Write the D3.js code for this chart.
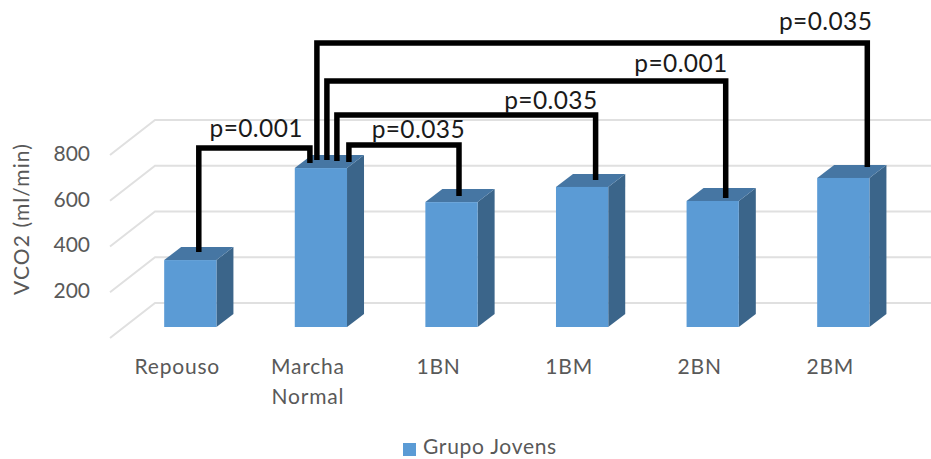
<!DOCTYPE html>
<html>
<head>
<meta charset="utf-8">
<script src="https://cdn.jsdelivr.net/npm/d3@7"></script>
<style>
  html, body { margin: 0; padding: 0; background: #fff; }
  svg { display: block; }
  text { font-family: Lato, "Open Sans", sans-serif; }
</style>
</head>
<body>
<svg id="chart" width="931" height="459"></svg>
<script>
// VCO2 per test condition, young group
const categories = ["Repouso", "Marcha Normal", "1BN", "1BM", "2BN", "2BM"];
const vco2 = [291, 691, 543, 609, 548, 648];
const yTicks = [200, 400, 600, 800];
const gridValues = [0, 200, 400, 600, 800];
const seriesName = "Grupo Jovens";
const yTitle = "VCO2 (ml/min)";

// Significance brackets: pair of categories, p label, bracket height in axis units
const bracketFrom = ["Marcha Normal", "Marcha Normal", "Marcha Normal", "Marcha Normal", "Repouso"];
const bracketTo = ["2BM", "2BN", "1BM", "1BN", "Marcha Normal"];
const bracketP = ["p=0.035", "p=0.001", "p=0.035", "p=0.035", "p=0.001"];
const bracketLevel = [1235, 1070, 922, 791, 778];

const svg = d3.select("#chart");

// Plot geometry
const depth = { x: 17, y: -13 };
const floor = { x: 45, y: 35 };
const baseY = 327;

const x = d3.scaleBand().domain(categories).range([125, 908.6]).paddingInner(0.6).paddingOuter(0.3);
const barY = d3.scaleLinear().domain([0, 800]).range([baseY, baseY - 184]);
const gridY = d3.scaleLinear().domain([0, 800]).range([303, 120]);
const center = c => x(c) + x.bandwidth() / 2;

// Back wall grid and the slanted floor-side strokes
const grid = svg.append("g").attr("fill", "none").attr("stroke", "#e0e0e0").attr("stroke-width", 2);
grid.selectAll("path").data(gridValues).join("path")
  .attr("d", v => d3.line()([[155 - floor.x, gridY(v) + floor.y], [155, gridY(v)], [931, gridY(v)]]));

// Three visible faces of each column
const bars = svg.append("g").selectAll("g").data(categories).join("g");
const corners = (c, i) => ({ l: x(c), r: x(c) + x.bandwidth(), t: barY(vco2[i]), b: baseY });
bars.append("path").attr("fill", "#3b658a").attr("d", (c, i) => {
  const k = corners(c, i);
  return d3.line()([[k.r, k.t], [k.r + depth.x, k.t + depth.y], [k.r + depth.x, k.b + depth.y], [k.r, k.b]]) + "Z";
});
bars.append("path").attr("fill", "#4676a3").attr("d", (c, i) => {
  const k = corners(c, i);
  return d3.line()([[k.l, k.t], [k.l + depth.x, k.t + depth.y], [k.r + depth.x, k.t + depth.y], [k.r, k.t]]) + "Z";
});
bars.append("rect").attr("fill", "#5b9bd5")
  .attr("x", c => x(c)).attr("width", x.bandwidth())
  .attr("y", (c, i) => barY(vco2[i])).attr("height", (c, i) => baseY - barY(vco2[i]));

// Value axis labels sit at the front end of each slanted stroke
const yAxis = d3.axisLeft(d3.scaleLinear().domain([0, 800]).range([336, 153]))
  .tickValues(yTicks).tickSize(0).tickPadding(0);
const yG = svg.append("g").attr("transform", "translate(90,0)").call(yAxis);
yG.select(".domain").remove();
yG.selectAll("text").attr("font-size", 21).attr("fill", "#595959").attr("dy", "0.35em");

// Category axis, long names wrap on two lines
const xAxis = d3.axisBottom(x).tickSize(0).tickPadding(0);
const xG = svg.append("g").attr("transform", "translate(-13,0)").call(xAxis);
xG.select(".domain").remove();
xG.selectAll("text").attr("font-size", 21).attr("fill", "#595959").attr("dy", 0).attr("y", 0)
  .attr("letter-spacing", 0.8)
  .each(function (d) {
    const t = d3.select(this).text(null);
    d.split(" ").forEach((w, i) => t.append("tspan").attr("x", 0).attr("y", 374 + i * 30).text(w));
  });

svg.append("text").attr("transform", "translate(29,219) rotate(-90)")
  .attr("text-anchor", "middle").attr("font-size", 21).attr("fill", "#595959")
  .attr("letter-spacing", 1.1).text(yTitle);

// Legend
svg.append("rect").attr("x", 403).attr("y", 443).attr("width", 13).attr("height", 13).attr("fill", "#5b9bd5");
svg.append("text").attr("x", 423).attr("y", 454).attr("font-size", 21).attr("fill", "#595959")
  .attr("letter-spacing", 0.7).text(seriesName);

// Brackets: horizontal offsets keep the five feet on the central column apart
const footFrom = [-4, 6, 16, 28, 8.5];
const footTo = [24, 13, 13.5, 7.5, -11];
const insetFrom = [8, 8, 7, 6, 8];
const insetTo = [11, 3, 7, 6, 5];
const labelDx = [5, 2, 2, 6, -7];
const labelDy = [13, 9, 6, 7, 11];

const valueOf = c => vco2[categories.indexOf(c)];
const br = svg.append("g");
br.selectAll("path").data(bracketP).join("path")
  .attr("fill", "none").attr("stroke", "#000").attr("stroke-width", 5.5).attr("stroke-linejoin", "miter")
  .attr("d", (p, i) => {
    const x0 = center(bracketFrom[i]) + footFrom[i];
    const x1 = center(bracketTo[i]) + footTo[i];
    const ly = barY(bracketLevel[i]);
    return d3.line()([
      [x0, barY(valueOf(bracketFrom[i])) - insetFrom[i]],
      [x0, ly], [x1, ly],
      [x1, barY(valueOf(bracketTo[i])) - insetTo[i]]
    ]);
  });
br.selectAll("text").data(bracketP).join("text")
  .attr("text-anchor", "end").attr("font-size", 24.5).attr("fill", "#1a1a1a")
  .attr("letter-spacing", 0.4)
  .attr("x", (p, i) => center(bracketTo[i]) + footTo[i] + labelDx[i])
  .attr("y", (p, i) => barY(bracketLevel[i]) - labelDy[i])
  .text(p => p);
</script>
</body>
</html>
